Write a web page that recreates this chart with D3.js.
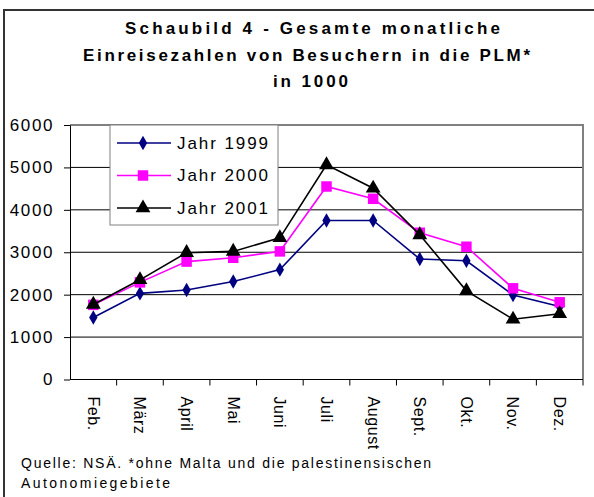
<!DOCTYPE html>
<html>
<head>
<meta charset="utf-8">
<script src="https://cdn.jsdelivr.net/npm/d3@7"></script>
<style>
  body { margin: 0; background: #fff; }
  svg { display: block; font-family: "Liberation Sans", Arial, sans-serif; }
</style>
</head>
<body>
<div id="chart"></div>
<script>
// data
const months = ["Feb.", "März", "April", "Mai", "Juni", "Juli", "August", "Sept.", "Okt.", "Nov.", "Dez."];
const jahr1999 = [1460, 2030, 2110, 2310, 2590, 3750, 3750, 2840, 2800, 1990, 1720];
const jahr2000 = [1760, 2290, 2780, 2870, 3020, 4550, 4260, 3460, 3130, 2150, 1820];
const jahr2001 = [1770, 2350, 2990, 3020, 3340, 5060, 4510, 3410, 2090, 1420, 1550];
const yTicks = [0, 1000, 2000, 3000, 4000, 5000, 6000];
const titleLines = ["Schaubild 4 - Gesamte monatliche", "Einreisezahlen von Besuchern in die PLM*", "in 1000"];
const noteLines = ["Quelle: NSÄ. *ohne Malta und die palestinensischen", "Autonomiegebiete"];

const series = [
  { name: "Jahr 1999", values: jahr1999, color: "#000080", symbol: d3.symbolDiamond, size: 60 },
  { name: "Jahr 2000", values: jahr2000, color: "#FF00FF", symbol: d3.symbolSquare, size: 110 },
  { name: "Jahr 2001", values: jahr2001, color: "#000000", symbol: d3.symbolTriangle, size: 95 }
];

const W = 594, H = 497;
const plot = { left: 70, right: 583, top: 125, bottom: 379.5 };

const svg = d3.select("#chart").append("svg")
  .attr("width", W)
  .attr("height", H);

// outer frame (runs off the right and bottom edges)
svg.append("rect")
  .attr("x", 4).attr("y", 10)
  .attr("width", 620).attr("height", 520)
  .attr("fill", "none")
  .attr("stroke", "#333")
  .attr("stroke-width", 2);

// title (Excel spreads the letters, so stretch to the measured spans)
const titleStart = [125, 83, 273];
const titleWidths = [375, 447, 75];
svg.append("g").selectAll("text")
  .data(titleLines)
  .join("text")
    .attr("x", (d, i) => titleStart[i])
    .attr("y", (d, i) => 34 + i * 26.5)
    .attr("textLength", (d, i) => titleWidths[i])
    .attr("lengthAdjust", "spacing")
    .style("font-size", "17px")
    .style("font-weight", "bold")
    .text(d => d);

const x = d3.scaleBand()
  .domain(months)
  .range([plot.left, plot.right]);

const y = d3.scaleLinear()
  .domain([0, 6000])
  .range([plot.bottom, plot.top]);

// gridlines
svg.append("g")
  .selectAll("line")
  .data(yTicks.filter(d => d > 0 && d < 6000))
  .join("line")
    .attr("x1", plot.left).attr("x2", plot.right)
    .attr("y1", d => y(d)).attr("y2", d => y(d))
    .attr("stroke", "#000")
    .attr("stroke-width", 1);

// plot border top + right (grey)
svg.append("path")
  .attr("d", `M${plot.left},${y(6000)}H${plot.right}V${plot.bottom}`)
  .attr("fill", "none")
  .attr("stroke", "#808080")
  .attr("stroke-width", 2);

// y axis
const yAxis = svg.append("g")
  .attr("transform", `translate(${plot.left},0)`)
  .call(d3.axisLeft(y).tickValues(yTicks).tickFormat(d3.format("d"))
    .tickSize(6).tickPadding(10).tickSizeOuter(0));
yAxis.select(".domain").attr("stroke", "#000");
yAxis.selectAll("text")
  .style("font-size", "17px")
  .style("font-family", "Liberation Sans, Arial, sans-serif")
  .style("letter-spacing", "1.6px")
  .attr("fill", "#000");

// x axis: ticks at band boundaries
const xAxis = svg.append("g")
  .attr("transform", `translate(0,${plot.bottom})`);
xAxis.append("line")
  .attr("x1", plot.left).attr("x2", plot.right)
  .attr("stroke", "#000");
xAxis.selectAll("line.tick")
  .data(months)
  .join("line")
    .attr("class", "tick")
    .attr("x1", d => x(d) + x.bandwidth())
    .attr("x2", d => x(d) + x.bandwidth())
    .attr("y1", 0).attr("y2", 6)
    .attr("stroke", "#000");
svg.append("clipPath").attr("id", "xlab")
  .append("rect").attr("x", 0).attr("y", plot.bottom).attr("width", W).attr("height", 450 - plot.bottom);
xAxis.append("g").attr("clip-path", "url(#xlab)")
  .attr("transform", `translate(0,${-plot.bottom})`)
  .selectAll("text")
  .data(months)
  .join("text")
    .attr("transform", d => `translate(${x(d) + x.bandwidth() / 2},${plot.bottom + 17}) rotate(90)`)
    .attr("dy", "0.35em")
    .style("font-size", "16px")
    .style("letter-spacing", "0.6px")
    .text(d => d);

// lines and markers
const line = d3.line()
  .x((d, i) => x(months[i]) + x.bandwidth() / 2)
  .y(d => y(d));

series.forEach(s => {
  svg.append("path")
    .datum(s.values)
    .attr("d", line)
    .attr("fill", "none")
    .attr("stroke", s.color)
    .attr("stroke-width", 1.6);
  svg.append("g")
    .selectAll("path")
    .data(s.values)
    .join("path")
      .attr("transform", (d, i) => `translate(${x(months[i]) + x.bandwidth() / 2},${y(d)})`)
      .attr("d", d3.symbol().type(s.symbol).size(s.size))
      .attr("fill", s.color);
});

// legend
const legend = svg.append("g");
legend.append("rect")
  .attr("x", 110).attr("y", 125)
  .attr("width", 168).attr("height", 100)
  .attr("fill", "#fff")
  .attr("stroke", "#808080")
  .attr("stroke-width", 1);
series.forEach((s, i) => {
  const ly = 143 + i * 32.5;
  legend.append("line")
    .attr("x1", 117).attr("x2", 171)
    .attr("y1", ly).attr("y2", ly)
    .attr("stroke", s.color)
    .attr("stroke-width", 1.6);
  legend.append("path")
    .attr("transform", `translate(143,${ly})`)
    .attr("d", d3.symbol().type(s.symbol).size(s.size))
    .attr("fill", s.color);
  legend.append("text")
    .attr("x", 177).attr("y", ly)
    .attr("dy", "0.35em")
    .attr("textLength", 91)
    .attr("lengthAdjust", "spacing")
    .style("font-size", "17px")
    .text(s.name);
});

// footnote
const noteWidths = [410, 149];
svg.append("g").selectAll("text")
  .data(noteLines)
  .join("text")
    .attr("x", 21)
    .attr("y", (d, i) => 468 + i * 20)
    .attr("textLength", (d, i) => noteWidths[i])
    .attr("lengthAdjust", "spacing")
    .style("font-size", "14px")
    .text(d => d);
</script>
</body>
</html>
